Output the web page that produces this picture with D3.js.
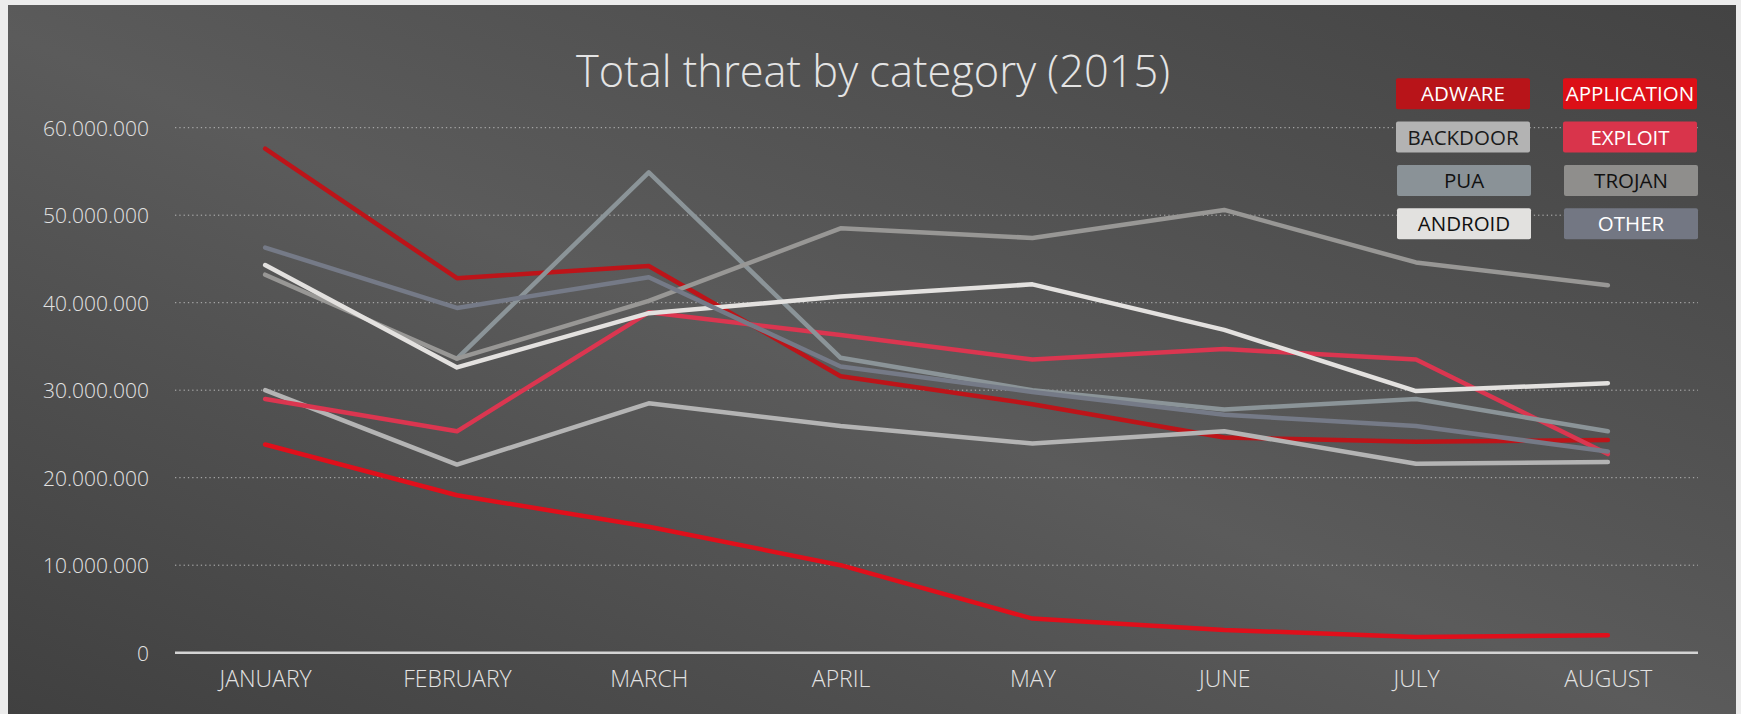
<!DOCTYPE html>
<html>
<head>
<meta charset="utf-8">
<script src="https://cdn.jsdelivr.net/npm/d3@7"></script>
<style>
  html, body { margin: 0; padding: 0; background: #ececec; }
  svg { display: block; }
</style>
</head>
<body>
<svg id="chart" width="1741" height="714"></svg>
<script>
// ---------------- DATA ----------------
const title = "Total threat by category (2015)";
const months = ["JANUARY", "FEBRUARY", "MARCH", "APRIL", "MAY", "JUNE", "JULY", "AUGUST"];
const yTicks = [0, 10000000, 20000000, 30000000, 40000000, 50000000, 60000000];
const yTickLabels = ["0", "10.000.000", "20.000.000", "30.000.000", "40.000.000", "50.000.000", "60.000.000"];

const seriesNames = ["ADWARE", "APPLICATION", "BACKDOOR", "EXPLOIT", "PUA", "TROJAN", "ANDROID", "OTHER"];
const adware      = [57600000, 42800000, 44200000, 31600000, 28400000, 24600000, 24100000, 24300000];
const application = [23800000, 18000000, 14400000, 10000000, 3900000, 2600000, 1800000, 2000000];
const backdoor    = [30000000, 21500000, 28500000, 25900000, 23900000, 25300000, 21600000, 21800000];
const exploit     = [29000000, 25300000, 38900000, 36300000, 33500000, 34700000, 33500000, 22700000];
const pua         = [null, 33600000, 54900000, 33700000, 30000000, 27800000, 29000000, 25300000];
const trojan      = [43200000, 33600000, 40200000, 48500000, 47400000, 50600000, 44600000, 42000000];
const android     = [44300000, 32600000, 38800000, 40700000, 42100000, 36900000, 29900000, 30800000];
const other       = [46300000, 39400000, 42900000, 32700000, 29800000, 27200000, 25900000, 23000000];

const seriesValues = [adware, application, backdoor, exploit, pua, trojan, android, other];
const lineColors = ["#bd1419", "#e00f1b", "#b4b4b4", "#db3650", "#8b9498", "#989795", "#e3e1df", "#757a87"];
const boxColors  = ["#b81419", "#dc0f17", "#b3b3b3", "#d9344b", "#8a9297", "#8f8e8c", "#e2e1df", "#737783"];
const boxText    = ["#ffffff", "#ffffff", "#1a1a1a", "#ffffff", "#111111", "#111111", "#111111", "#ffffff"];

// ---------------- LAYOUT ----------------
const W = 1741, H = 714;
const svg = d3.select("#chart");

const defs = svg.append("defs");
const grad = defs.append("linearGradient").attr("id", "bg")
  .attr("x1", "0%").attr("y1", "100%").attr("x2", "100%").attr("y2", "0%");
grad.append("stop").attr("offset", "0%").attr("stop-color", "#404040");
grad.append("stop").attr("offset", "48%").attr("stop-color", "#5b5b5b");
grad.append("stop").attr("offset", "100%").attr("stop-color", "#434343");

svg.append("rect").attr("x", 0).attr("y", 0).attr("width", W).attr("height", H).attr("fill", "#ececec");
svg.append("rect").attr("x", 8).attr("y", 5).attr("width", 1728).attr("height", H - 5).attr("fill", "url(#bg)");

const x = d3.scalePoint().domain(months).range([175, 1698]).padding(0.47);
const y = d3.scaleLinear().domain([0, 60000000]).range([652.7, 127.7]);

// gridlines
svg.append("g").selectAll("line")
  .data(yTicks.filter(d => d > 0))
  .join("line")
  .attr("x1", 175).attr("x2", 1698)
  .attr("y1", d => y(d)).attr("y2", d => y(d))
  .attr("stroke", "#b8b8b8").attr("stroke-width", 1)
  .attr("stroke-dasharray", "1.3,3");

// y axis labels
const yAxis = d3.axisLeft(y).tickValues(yTicks)
  .tickFormat((d, i) => yTickLabels[i]).tickSize(0).tickPadding(0);
const yG = svg.append("g").attr("transform", "translate(149,0)").call(yAxis);
yG.select(".domain").remove();
yG.selectAll("text")
  .attr("fill", "#e2e2e2")
  .attr("font-family", "'Open Sans', sans-serif")
  .attr("font-weight", 300)
  .attr("font-size", 21)
  .attr("dy", "0.35em");

// x axis
const xAxis = d3.axisBottom(x).tickSize(0).tickPadding(0);
const xG = svg.append("g").attr("transform", `translate(0,${y(0)})`).call(xAxis);
xG.select(".domain").remove();
xG.selectAll("text")
  .attr("fill", "#e2e2e2")
  .attr("font-family", "'Open Sans', sans-serif")
  .attr("font-weight", 300)
  .attr("font-size", 23)
  .attr("y", 34.5).attr("dy", 0);
svg.append("line")
  .attr("x1", 175).attr("x2", 1698)
  .attr("y1", y(0)).attr("y2", y(0))
  .attr("stroke", "#d4d4d4").attr("stroke-width", 2.5);

// lines
const line = d3.line()
  .defined(d => d != null)
  .x((d, i) => x(months[i]))
  .y(d => y(d));

svg.append("g").selectAll("path")
  .data(seriesValues)
  .join("path")
  .attr("d", d => line(d))
  .attr("fill", "none")
  .attr("stroke", (d, i) => lineColors[i])
  .attr("stroke-width", 4.5)
  .attr("stroke-linejoin", "round")
  .attr("stroke-linecap", "round");

// title
svg.append("text")
  .attr("x", 873).attr("y", 86.7)
  .attr("text-anchor", "middle")
  .attr("fill", "#e4e4e4")
  .attr("font-family", "'Open Sans', sans-serif")
  .attr("font-weight", 300)
  .attr("font-size", 45)
  .attr("textLength", 594)
  .attr("lengthAdjust", "spacingAndGlyphs")
  .text(title);

// legend
const legend = svg.append("g");
const lg = legend.selectAll("g")
  .data(seriesNames)
  .join("g")
  .attr("transform", (d, i) => {
    const col = i % 2, row = Math.floor(i / 2);
    const lx = (col === 0 ? 1396 : 1563) + (row >= 2 ? 1 : 0);
    const ly = 78.3 + row * 43.3;
    return `translate(${lx},${ly})`;
  });
lg.append("rect")
  .attr("width", 134).attr("height", 31)
  .attr("rx", 2).attr("ry", 2)
  .attr("fill", (d, i) => boxColors[i]);
lg.append("text")
  .attr("x", 67).attr("y", 23)
  .attr("text-anchor", "middle")
  .attr("fill", (d, i) => boxText[i])
  .attr("font-family", "'Open Sans', sans-serif")
  .attr("font-weight", 400)
  .attr("font-size", 20.5)
  .text(d => d);
</script>
</body>
</html>
